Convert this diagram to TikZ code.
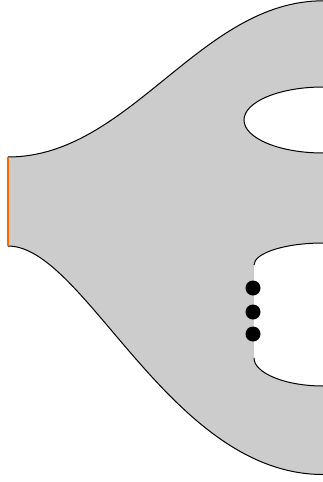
\documentclass[tikz,border=0pt]{standalone}
\begin{document}
\begin{tikzpicture}[x=1pt,y=-1pt,
  surface/.style={fill=black!20,draw=none},
  hole/.style={fill=white,draw=none},
  edge/.style={draw=black,line width=1pt},
  boundary/.style={draw={rgb,255:red,255;green,102;blue,0},line width=1.2pt},
  puncture/.style={fill=black}]
\useasboundingbox (0,0) rectangle (323,482);
% surface
\path[surface] (8,157) .. controls (130,157) and (200,0.8) .. (323,0.8) -- (323,474.5)
  .. controls (170,474.5) and (85,246) .. (8,246) -- cycle;
% upper hole
\path[hole] (323,87) .. controls (279.4,87) and (244,101.8) .. (244,120)
  .. controls (244,138.2) and (279.4,153) .. (323,153) -- cycle;
% lower hole
\path[hole] (323,243) .. controls (285,243) and (254,253) .. (254,265) -- (254,358)
  .. controls (254,373) and (285,386) .. (323,386) -- cycle;
% outlines
\draw[edge] (8,157) .. controls (130,157) and (200,0.8) .. (323,0.8);
\draw[edge] (8,246) .. controls (85,246) and (170,474.5) .. (323,474.5);
\draw[edge] (323,87) .. controls (279.4,87) and (244,101.8) .. (244,120)
  .. controls (244,138.2) and (279.4,153) .. (323,153);
\draw[edge] (323,243) .. controls (285,243) and (254,253) .. (254,265);
\draw[edge] (254,358) .. controls (254,373) and (285,386) .. (323,386);
\draw[boundary] (8,157) -- (8,246);
% dots
\foreach \yy in {288,312,334} \fill[puncture] (253,\yy) circle[radius=7.5pt];
\end{tikzpicture}
\end{document}
